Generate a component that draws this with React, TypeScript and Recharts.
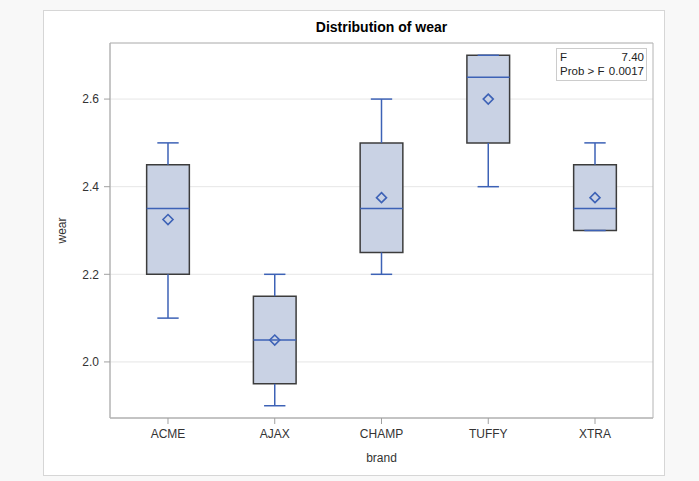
import React from 'react';
import {
  ComposedChart,
  XAxis,
  YAxis,
  CartesianGrid,
  Scatter,
  ReferenceArea,
  ReferenceLine,
  Label,
} from 'recharts';

const CATEGORIES = ['ACME', 'AJAX', 'CHAMP', 'TUFFY', 'XTRA'];
const WHISKER_LOW = [2.1, 1.9, 2.2, 2.4, 2.3];
const Q1 = [2.2, 1.95, 2.25, 2.5, 2.3];
const MEDIAN = [2.35, 2.05, 2.35, 2.65, 2.35];
const Q3 = [2.45, 2.15, 2.5, 2.7, 2.45];
const WHISKER_HIGH = [2.5, 2.2, 2.6, 2.7, 2.5];
const MEAN = [2.325, 2.05, 2.375, 2.6, 2.375];
const Y_TICKS = [2.0, 2.2, 2.4, 2.6];
const Y_DOMAIN = [1.872, 2.728];
const X_DOMAIN = [-0.5433, 4.5433];
const F_VALUE = '7.40';
const P_VALUE = '0.0017';
const TITLE = 'Distribution of wear';

const BOX_HALF = 0.2;
const CAP_HALF = 0.1;
const BLUE = '#3d62b6';
const FONT = '"Liberation Sans", Arial, sans-serif';

const meanData = CATEGORIES.map((c, i) => ({ x: i, y: MEAN[i], name: c }));

const Diamond = (props: any) => {
  const { cx, cy } = props;
  if (cx == null || cy == null) return null;
  const r = 5;
  return (
    <path
      d={`M${cx},${cy - r} L${cx + r},${cy} L${cx},${cy + r} L${cx - r},${cy} Z`}
      fill="none"
      stroke={BLUE}
      strokeWidth={1.6}
    />
  );
};

export default function App() {
  return (
    <div
      style={{
        position: 'absolute',
        left: 0,
        top: 0,
        width: 699,
        height: 481,
        background: '#f8f8f8',
        fontFamily: FONT,
      }}
    >
      <div
        style={{
          position: 'absolute',
          left: 43,
          top: 10,
          width: 620,
          height: 464,
          background: '#ffffff',
          border: '1px solid #d6d6d6',
        }}
      />
      <div
        style={{
          position: 'absolute',
          left: 110,
          width: 543,
          top: 19,
          textAlign: 'center',
          fontWeight: 'bold',
          fontSize: 14,
          color: '#000',
        }}
      >
        {TITLE}
      </div>
      <div style={{ position: 'absolute', left: 0, top: 0 }}>
        <ComposedChart
          width={699}
          height={481}
          data={meanData}
          margin={{ top: 43, right: 46, bottom: 13, left: 60 }}
        >
          <CartesianGrid vertical={false} stroke="#e6e6e6" />
          <XAxis
            type="number"
            dataKey="x"
            domain={X_DOMAIN}
            ticks={[0, 1, 2, 3, 4]}
            allowDataOverflow
            tickFormatter={(v: number) => CATEGORIES[v]}
            height={50}
            tickSize={6}
            tickMargin={5}
            axisLine={{ stroke: '#b4b4b4' }}
            tickLine={{ stroke: '#a0a0a0' }}
            tick={{ fill: '#333', fontSize: 12, fontFamily: FONT }}
          >
            <Label
              value="brand"
              position="insideBottom"
              offset={6}
              style={{ fill: '#333', fontSize: 12, fontFamily: FONT }}
            />
          </XAxis>
          <YAxis
            type="number"
            dataKey="y"
            domain={Y_DOMAIN}
            ticks={Y_TICKS}
            allowDataOverflow
            tickFormatter={(v: number) => v.toFixed(1)}
            width={50}
            tickSize={6}
            tickMargin={5}
            axisLine={{ stroke: '#b4b4b4' }}
            tickLine={{ stroke: '#a0a0a0' }}
            tick={{ fill: '#333', fontSize: 12, fontFamily: FONT }}
          >
            <Label
              value="wear"
              angle={-90}
              position="insideLeft"
              offset={2}
              style={{ fill: '#333', fontSize: 12, fontFamily: FONT, textAnchor: 'middle' }}
            />
          </YAxis>
          <ReferenceArea
            x1={X_DOMAIN[0]}
            x2={X_DOMAIN[1]}
            y1={Y_DOMAIN[0]}
            y2={Y_DOMAIN[1]}
            fill="none"
            fillOpacity={0}
            stroke="#b4b4b4"
            strokeWidth={1}
          />
          {CATEGORIES.map((c, i) => (
            <ReferenceArea
              key={`box-${c}`}
              x1={i - BOX_HALF}
              x2={i + BOX_HALF}
              y1={Q1[i]}
              y2={Q3[i]}
              fill="#c9d2e4"
              fillOpacity={1}
              stroke="#3c3c3c"
              strokeWidth={1.5}
            />
          ))}
          {CATEGORIES.map((c, i) => (
            <ReferenceLine
              key={`wl-${c}`}
              segment={[
                { x: i, y: WHISKER_LOW[i] },
                { x: i, y: Q1[i] },
              ]}
              stroke={BLUE}
              strokeWidth={1.5}
            />
          ))}
          {CATEGORIES.map((c, i) => (
            <ReferenceLine
              key={`wh-${c}`}
              segment={[
                { x: i, y: Q3[i] },
                { x: i, y: WHISKER_HIGH[i] },
              ]}
              stroke={BLUE}
              strokeWidth={1.5}
            />
          ))}
          {CATEGORIES.map((c, i) => (
            <ReferenceLine
              key={`cl-${c}`}
              segment={[
                { x: i - CAP_HALF, y: WHISKER_LOW[i] },
                { x: i + CAP_HALF, y: WHISKER_LOW[i] },
              ]}
              stroke={BLUE}
              strokeWidth={1.5}
            />
          ))}
          {CATEGORIES.map((c, i) => (
            <ReferenceLine
              key={`ch-${c}`}
              segment={[
                { x: i - CAP_HALF, y: WHISKER_HIGH[i] },
                { x: i + CAP_HALF, y: WHISKER_HIGH[i] },
              ]}
              stroke={BLUE}
              strokeWidth={1.5}
            />
          ))}
          {CATEGORIES.map((c, i) => (
            <ReferenceLine
              key={`md-${c}`}
              segment={[
                { x: i - BOX_HALF, y: MEDIAN[i] },
                { x: i + BOX_HALF, y: MEDIAN[i] },
              ]}
              stroke={BLUE}
              strokeWidth={1.5}
            />
          ))}
          <Scatter
            data={meanData}
            dataKey="y"
            shape={<Diamond />}
            isAnimationActive={false}
          />
        </ComposedChart>
      </div>
      <div
        style={{
          position: 'absolute',
          left: 556,
          top: 48,
          width: 89,
          height: 29,
          border: '1px solid #cccccc',
          background: '#fff',
          fontSize: 11.5,
          color: '#222',
          lineHeight: '14px',
          padding: '1px 0',
          boxSizing: 'content-box',
          whiteSpace: 'nowrap',
        }}
      >
        <div style={{ display: 'flex', justifyContent: 'space-between', padding: '0 2px 0 3px' }}>
          <span>F</span>
          <span>{F_VALUE}</span>
        </div>
        <div style={{ display: 'flex', justifyContent: 'space-between', padding: '0 2px 0 3px' }}>
          <span>Prob &gt; F</span>
          <span>{P_VALUE}</span>
        </div>
      </div>
    </div>
  );
}
